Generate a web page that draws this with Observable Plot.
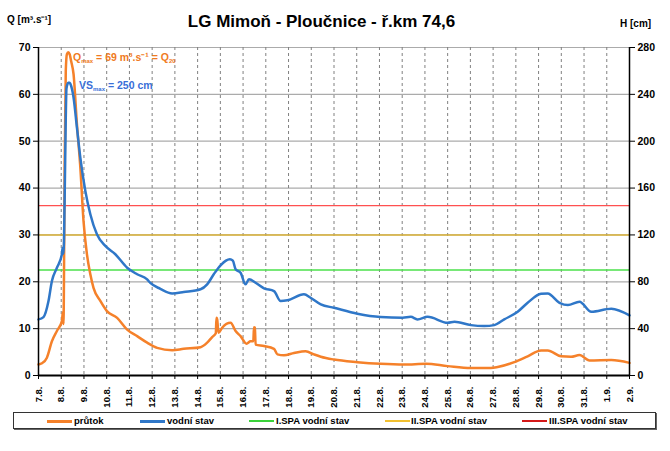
<!DOCTYPE html>
<html>
<head>
<meta charset="utf-8">
<script src="https://cdn.jsdelivr.net/npm/d3@7"></script>
<script src="https://cdn.jsdelivr.net/npm/@observablehq/plot@0.6"></script>
<style>
  html, body { margin: 0; padding: 0; background: #fff; }
  body { font-family: "Liberation Sans", Arial, sans-serif; font-weight: bold; }
  #wrap { position: relative; width: 670px; height: 451px; overflow: hidden; }
  #wrap svg { position: absolute; left: 0; top: 0; }
  .abs { position: absolute; white-space: nowrap; line-height: 1; }
  sub { font-size: 6px; vertical-align: -2px; }
  #legend { position: absolute; left: 13px; top: 412px; width: 643px; height: 17px;
            border: 1px solid #333; box-shadow: 1px 1px 0 #666; box-sizing: border-box; }
  .li { position: absolute; top: 3px; font-size: 9.5px; color: #000; line-height: 10px; }
  .sw { position: absolute; top: 4px; width: 25px; height: 2px; }
</style>
</head>
<body>
<div id="wrap"></div>
<script>
// ---- data ----
const dayLabels = ["7.8.","8.8.","9.8.","10.8.","11.8.","12.8.","13.8.","14.8.","15.8.","16.8.","17.8.","18.8.","19.8.","20.8.","21.8.","22.8.","23.8.","24.8.","25.8.","26.8.","27.8.","28.8.","29.8.","30.8.","31.8.","1.9.","2.9."];

// průtok Q [m3/s]; time in days since 7.8. 00:00
const qDay = [0,0.15,0.37,0.59,0.81,1.03,1.07,1.10,1.12,1.15,1.20,1.25,1.31,1.37,1.44,1.54,1.69,1.84,1.98,2.13,2.28,2.42,2.72,3.01,3.46,3.90,4.34,4.78,5.22,5.88,6.39,7.13,7.42,7.64,7.80,7.83,7.86,7.92,8.08,8.45,8.67,8.89,9.15,9.33,9.45,9.48,9.52,9.55,9.92,10.36,10.51,10.80,11.24,11.75,12.12,12.42,13.0,14.03,15.05,16.09,17.04,18.0,19.02,19.9,20.2,20.93,21.52,22.11,22.4,22.99,23.43,23.8,24.24,25.2,26];
const qVal = [2.35,2.6,3.8,7.3,9.5,11.6,13.5,11.0,20,45,65,68.6,69,68.6,67,64.4,53.7,44.4,33,25.9,21.6,18.7,15.9,13.75,12.3,9.8,8.4,7.0,5.9,5.4,5.7,6.05,7.0,8.2,9.0,12.3,12.0,9.1,10.2,11.25,9.5,8.4,6.8,7.3,7.3,10.3,10.2,6.6,6.3,5.7,4.5,4.3,4.8,5.2,4.5,4.0,3.4,2.85,2.5,2.35,2.5,2.0,1.6,1.6,1.8,2.85,4.1,5.35,5.35,4.1,4.0,4.35,3.2,3.3,2.7];

// vodní stav H [cm]
const hDay = [0,0.22,0.44,0.59,0.81,1.03,1.06,1.10,1.15,1.20,1.23,1.28,1.31,1.37,1.40,1.54,1.69,1.84,2.06,2.28,2.57,2.94,3.38,3.90,4.34,4.78,4.92,5.36,5.88,6.39,7.13,7.42,7.71,8.01,8.42,8.55,8.67,8.89,9.11,9.26,9.55,9.92,10.36,10.65,10.95,11.68,11.97,12.42,13.0,14.03,15.05,16.02,16.38,16.67,17.12,18.0,18.3,19.02,19.61,20.05,20.49,21.08,21.52,22.11,22.4,22.92,23.29,23.8,24.32,25.2,26];
const hVal = [47.9,49.9,63.6,80.7,92,103.5,109,104,150,220,245,249,250,250,249,237.5,211.8,186,157.6,137.7,120.6,110.6,103.5,92,86.4,82,79,74,70.1,71.3,73.6,77.8,86.4,94.1,99.2,98,90.7,87.8,77.8,82.1,79.2,74.4,72.1,63.6,64.2,69.3,66.4,60.7,57.8,52.7,49.9,49.3,50.1,47.9,50.1,45,45.9,43,42.2,43,47.9,54.4,62.1,69.8,70.1,62.1,60.1,63,54.4,57,51.3];

// SPA levels [cm]
const spaNames = ["I.SPA vodní stav","II.SPA vodní stav","III.SPA vodní stav"];
const spaLevels = [90, 120, 145];
const qTicks = [0,10,20,30,40,50,60,70];
const hTicks = [0,40,80,120,160,200,240,280];

// ---- colours ----
const cQ = "#f5812a", cH = "#2f77c8";
const spaColors = ["#4be04b", "#dcb43a", "#ff5050"];
const spaLegend = ["#3ad23a", "#f2c030", "#d41818"];

const qData = qDay.map((d, i) => ({d, v: qVal[i]}));
const hData = hDay.map((d, i) => ({d, v: hVal[i]}));
const spaData = spaLevels.map((h, i) => ({h, c: spaColors[i]}));
const days = dayLabels.map((_, i) => i);
const H2Q = 0.25; // right axis (cm) drawn on Q scale: 280 cm = 70

const chart = Plot.plot({
  width: 670,
  height: 412,
  marginLeft: 38,
  marginRight: 41,
  marginTop: 47,
  marginBottom: 37,
  style: {fontFamily: "'Liberation Sans', Arial, sans-serif", fontWeight: "bold", fontSize: "10.5px", color: "#000", background: "transparent"},
  x: {type: "linear", domain: [0, 26]},
  y: {domain: [0, 70]},
  marks: [
    Plot.gridY(qTicks.slice(1), {stroke: "#ababab", strokeOpacity: 1, strokeWidth: 1.2}),
    Plot.gridX(days.slice(1, -1), {stroke: "#808080", strokeOpacity: 1, strokeDasharray: "3,3"}),
    Plot.ruleY(spaData, {y: d => d.h * H2Q, stroke: d => d.c, strokeWidth: 1.4}),
    Plot.line(qData, {x: "d", y: "v", stroke: cQ, strokeWidth: 2.5, curve: "monotone-x"}),
    Plot.line(hData, {x: "d", y: d => d.v * H2Q, stroke: cH, strokeWidth: 2.5, curve: "monotone-x"}),
    Plot.axisY(qTicks, {anchor: "left", tickSize: 5, tickPadding: 3, fontSize: 10.5, fontWeight: "bold", label: null, stroke: "#000"}),
    Plot.axisY(hTicks.map(h => h * H2Q), {anchor: "right", tickSize: 5, tickPadding: 3, tickFormat: v => Math.round(v / H2Q), fontSize: 10.5, fontWeight: "bold", label: null, stroke: "#000"}),
    Plot.axisX(days, {anchor: "bottom", tickSize: 4, tickPadding: 7, tickRotate: -90, tickFormat: i => dayLabels[i], fontSize: 9.5, fontWeight: "bold", label: null, stroke: "#000"}),
    Plot.ruleX([0, 26], {stroke: "#000", strokeWidth: 1.5}),
    Plot.ruleY([0], {stroke: "#000", strokeWidth: 1.8})
  ]
});

const wrap = document.getElementById("wrap");
wrap.appendChild(chart);

function addText(html, left, top, size, color, extra) {
  const el = document.createElement("div");
  el.className = "abs";
  el.innerHTML = html;
  el.style.left = left + "px";
  el.style.top = top + "px";
  el.style.fontSize = size + "px";
  el.style.color = color || "#000";
  if (extra) Object.assign(el.style, extra);
  wrap.appendChild(el);
  return el;
}

addText("LG Mimoň - Ploučnice - ř.km 74,6", 0, 13, 17, "#000", {width: "643px", textAlign: "center"});
addText("Q [m³.s⁻¹]", 7, 15, 10, "#000");
addText("H [cm]", 620, 19, 10, "#000");
addText("Q<sub>max</sub> = 69 m³.s⁻¹ = Q<sub>20</sub>", 73, 52, 10.5, "#f07a22");
addText("VS<sub>max</sub> = 250 cm", 79, 80, 10.5, "#3a6fd8");

// legend
const legend = document.createElement("div");
legend.id = "legend";
wrap.appendChild(legend);
const items = [
  {name: "průtok", color: cQ, sw: 33, tx: 60, w: 3},
  {name: "vodní stav", color: cH, sw: 126, tx: 153, w: 3},
  {name: spaNames[0], color: spaLegend[0], sw: 235, tx: 262, w: 1.5},
  {name: spaNames[1], color: spaLegend[1], sw: 371, tx: 397, w: 1.5},
  {name: spaNames[2], color: spaLegend[2], sw: 508, tx: 535, w: 1.5}
];
for (const it of items) {
  const s = document.createElement("div");
  s.className = "sw";
  s.style.left = it.sw + "px";
  s.style.background = it.color;
  s.style.height = it.w + "px";
  s.style.top = (8 - it.w / 2) + "px";
  legend.appendChild(s);
  const t = document.createElement("div");
  t.className = "li";
  t.style.left = it.tx + "px";
  t.textContent = it.name;
  legend.appendChild(t);
}
</script>
</body>
</html>
